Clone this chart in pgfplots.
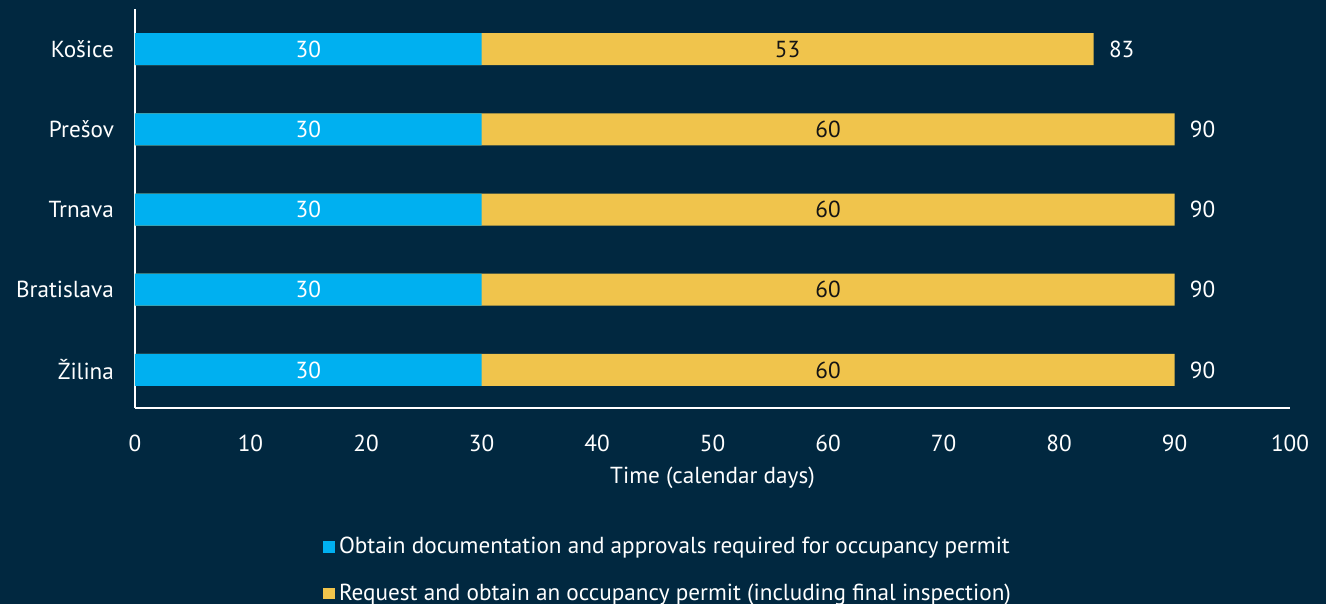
\documentclass[border=0pt]{standalone}
\usepackage{pgfplots}
\pgfplotsset{compat=1.18}
\usepackage{fontspec}
\setmainfont{PT Sans}
\definecolor{bg}{RGB}{1,40,64}
\definecolor{cyanc}{RGB}{0,176,240}
\definecolor{yellowc}{RGB}{240,196,76}
\definecolor{darktext}{RGB}{20,20,20}
\newcommand{\fs}{\fontsize{11.6}{13.5}\selectfont}
\begin{document}
\begin{tikzpicture}
\path[use as bounding box, fill=bg] (-67.5pt,-98pt) rectangle (595.5pt,204pt);
\begin{axis}[
  scale only axis,
  width=577.5pt, height=199.5pt,
  xmin=0, xmax=100, ymin=-0.475, ymax=4.5,
  axis x line*=bottom, axis y line*=left,
  axis line style={white, line width=1pt, -},
  xtick={0,10,...,100},
  ytick={0,1,2,3,4},
  yticklabels={Žilina, Bratislava, Trnava, Prešov, Košice},
  major tick length=0pt,
  tick style={draw=none},
  font=\fs,
  ticklabel style={text=white, font=\fs},
  /pgf/number format/assume math mode=true,
  xticklabel style={yshift=-10pt},
  yticklabel style={xshift=-7pt},
  xlabel={Time (calendar days)},
  every axis x label/.style={at={(axis description cs:0.5,0)}, anchor=center, yshift=-35pt, text=white, font=\fs},
  clip=false,
  reverse legend,
  legend style={at={(axis description cs:0,0)}, anchor=north west, xshift=91pt, yshift=-60.5pt,
    draw=none, fill=none, text=white, font=\fs,
    row sep=9.5pt, legend cell align=left,
    /tikz/every even column/.append style={column sep=0pt}},
  legend columns=1,
]
% full bars (second segment shows from 30 to the total)
\addplot[xbar, bar width=16pt, bar shift=0pt, draw=none, fill=yellowc,
  legend image code/.code={\fill[yellowc] (0pt,-2.9pt) rectangle (5.8pt,2.9pt);}]
  coordinates {(90,0) (90,1) (90,2) (90,3) (83,4)};
\addlegendentry{Request and obtain an occupancy permit (including final inspection)}
\addplot[xbar, bar width=16pt, bar shift=0pt, draw=none, fill=cyanc,
  legend image code/.code={\fill[cyanc] (0pt,-2.9pt) rectangle (5.8pt,2.9pt);}]
  coordinates {(30,0) (30,1) (30,2) (30,3) (30,4)};
\addlegendentry{Obtain documentation and approvals required for occupancy permit}
% labels
\addplot[forget plot, draw=none, mark=none, nodes near coords, point meta=explicit symbolic,
  every node near coord/.style={anchor=center, text=white, font=\fs}]
  coordinates {(15,0) [30] (15,1) [30] (15,2) [30] (15,3) [30] (15,4) [30]};
\addplot[forget plot, draw=none, mark=none, nodes near coords, point meta=explicit symbolic,
  every node near coord/.style={anchor=center, text=darktext, font=\fs}]
  coordinates {(60,0) [60] (60,1) [60] (60,2) [60] (60,3) [60] (56.5,4) [53]};
\addplot[forget plot, draw=none, mark=none, nodes near coords, point meta=explicit symbolic,
  every node near coord/.style={anchor=west, inner sep=0pt, xshift=7.5pt, text=white, font=\fs}]
  coordinates {(90,0) [90] (90,1) [90] (90,2) [90] (90,3) [90] (83,4) [83]};
\end{axis}
\end{tikzpicture}
\end{document}
